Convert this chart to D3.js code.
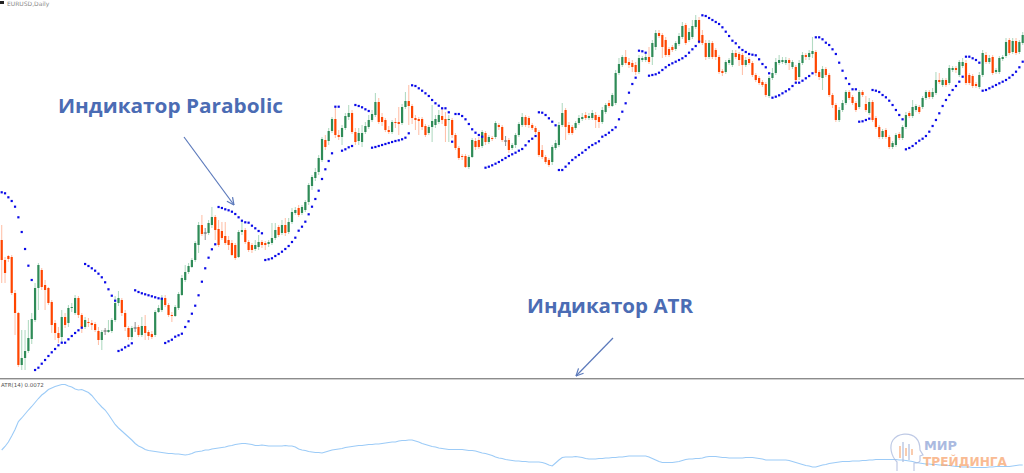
<!DOCTYPE html>
<html><head><meta charset="utf-8">
<script src="https://cdn.jsdelivr.net/npm/d3@7"></script>
<style>html,body{margin:0;padding:0;background:#fff;overflow:hidden}</style>
</head><body><svg id="c" width="1024" height="473" xmlns="http://www.w3.org/2000/svg"></svg>
<script>
// ---- chart values (quotes stored in 0.001 units, ATR in pips) ----
const symbolLabel = "EURUSD,Daily";
const atrName = "ATR(14)";
const noteTexts = ["Индикатор Parabolic", "Индикатор ATR"];
const logoTexts = ["МИР", "ТРЕЙДИНГА"];

const open = [
1260,1240,1244,1243,1207,1187,1135,1142,1149,1161, 1180,1212,1230,1215,1212,1198,1177,1167,1163,1183,
1177,1192,1187,1202,1185,1173,1178,1177,1176,1169, 1160,1169,1168,1169,1180,1197,1200,1187,1172,1163,
1172,1173,1165,1174,1168,1166,1165,1188,1190,1202, 1195,1185,1184,1192,1205,1220,1228,1233,1240,1255,
1275,1267,1267,1275,1283,1271,1269,1264,1260,1257, 1255,1243,1268,1270,1258,1255,1251,1253,1258,1257,
1256,1257,1262,1273,1267,1275,1268,1278,1287,1292, 1287,1290,1298,1314,1322,1328,1340,1360,1359,1369,
1381,1365,1363,1372,1383,1387,1368,1359,1358,1368, 1373,1380,1385,1398,1383,1380,1370,1368,1378,1378,
1377,1393,1399,1394,1382,1381,1381,1374,1367,1373, 1375,1378,1384,1381,1380,1380,1365,1352,1344,1344,
1333,1343,1359,1360,1354,1367,1358,1362,1363,1375, 1373,1359,1360,1352,1355,1365,1375,1383,1382,1375,
1372,1368,1350,1343,1340,1338,1352,1355,1375,1390, 1375,1373,1372,1377,1381,1385,1382,1382,1385,1383,
1378,1388,1397,1394,1397,1427,1435,1443,1438,1437, 1435,1428,1440,1440,1443,1443,1453,1467,1465,1460,
1451,1453,1451,1456,1463,1475,1460,1463,1473,1480, 1465,1457,1443,1457,1450,1443,1429,1428,1437,1435,
1447,1446,1445,1435,1441,1437,1425,1422,1418,1416, 1404,1422,1427,1437,1438,1437,1440,1433,1433,1423,
1437,1445,1443,1446,1448,1428,1422,1431,1425,1405, 1395,1380,1390,1397,1408,1403,1397,1393,1408,1396,
1387,1398,1382,1373,1363,1370,1363,1353,1355,1366, 1362,1373,1387,1384,1390,1393,1393,1402,1408,1403,
1407,1420,1415,1420,1417,1430,1432,1425,1434,1437, 1425,1424,1416,1413,1425,1445,1438,1443,1428,1428,
1441,1444,1460,1448,1459,1448,1457];
const close = [
1240,1227,1241,1207,1187,1135,1142,1149,1162,1181, 1212,1235,1213,1210,1197,1175,1167,1162,1183,1175,
1192,1193,1202,1185,1173,1180,1177,1175,1170,1160, 1168,1169,1170,1180,1197,1202,1187,1173,1163,1172,
1172,1165,1174,1167,1164,1163,1188,1192,1202,1195, 1185,1184,1193,1206,1222,1228,1234,1240,1257,1275,
1266,1267,1277,1283,1270,1255,1262,1257,1255,1245, 1242,1268,1270,1258,1250,1250,1255,1258,1255,1255,
1258,1262,1270,1265,1275,1267,1278,1288,1290,1285, 1293,1298,1315,1323,1328,1342,1361,1353,1369,1381,
1365,1363,1372,1384,1387,1368,1358,1367,1367,1374, 1380,1386,1398,1378,1378,1370,1368,1378,1377,1376,
1393,1399,1394,1382,1380,1379,1373,1365,1373,1379, 1381,1385,1380,1374,1381,1365,1352,1342,1343,1333,
1343,1360,1353,1353,1368,1358,1363,1361,1377,1373, 1360,1359,1350,1355,1365,1376,1383,1375,1375,1372,
1368,1345,1343,1338,1335,1353,1357,1375,1387,1373, 1367,1367,1377,1382,1383,1382,1384,1387,1380,1378,
1390,1395,1394,1405,1427,1436,1443,1437,1435,1433, 1428,1442,1442,1443,1438,1457,1467,1464,1453,1445,
1445,1450,1457,1464,1474,1457,1468,1474,1480,1458, 1457,1443,1457,1443,1443,1428,1427,1438,1440,1447,
1443,1440,1435,1440,1437,1425,1420,1417,1415,1405, 1422,1427,1438,1440,1440,1440,1437,1438,1420,1437,
1445,1443,1447,1449,1427,1423,1431,1425,1405,1395, 1380,1390,1397,1408,1402,1397,1390,1408,1405,1390,
1398,1380,1373,1363,1369,1363,1353,1357,1365,1362, 1373,1385,1384,1393,1394,1388,1402,1408,1403,1408,
1420,1418,1420,1415,1432,1432,1430,1438,1438,1417, 1417,1414,1414,1425,1447,1438,1442,1427,1430,1442,
1443,1458,1447,1459,1447,1458,1465];
const high = [
1275,1243,1245,1245,1210,1188,1170,1170,1180,1187, 1217,1237,1232,1220,1213,1200,1180,1173,1190,1187,
1195,1197,1205,1204,1187,1183,1182,1180,1178,1173, 1170,1172,1180,1182,1204,1209,1202,1190,1174,1174,
1178,1175,1183,1185,1170,1169,1190,1195,1205,1205, 1197,1188,1195,1208,1225,1235,1237,1242,1259,1278,
1285,1272,1280,1293,1285,1280,1278,1278,1264,1260, 1257,1270,1280,1272,1260,1257,1260,1265,1260,1259,
1260,1277,1277,1275,1280,1282,1282,1292,1293,1295, 1295,1300,1317,1325,1332,1345,1363,1365,1372,1383,
1393,1370,1375,1387,1395,1390,1372,1372,1375,1378, 1385,1390,1407,1402,1387,1382,1374,1380,1382,1393,
1396,1408,1415,1396,1385,1383,1383,1376,1375,1395, 1385,1390,1392,1388,1385,1382,1367,1354,1346,1346,
1345,1362,1362,1363,1370,1369,1365,1364,1379,1377, 1375,1364,1362,1357,1367,1378,1387,1385,1384,1377,
1374,1370,1355,1345,1342,1355,1360,1378,1397,1392, 1378,1375,1379,1385,1387,1388,1387,1390,1388,1385,
1393,1397,1400,1407,1430,1442,1445,1450,1442,1440, 1438,1445,1444,1447,1453,1460,1470,1470,1467,1463,
1453,1455,1459,1467,1478,1477,1472,1480,1485,1483, 1470,1460,1460,1459,1452,1445,1431,1440,1442,1450,
1450,1448,1447,1443,1443,1439,1427,1424,1420,1418, 1424,1432,1442,1445,1443,1443,1442,1440,1435,1440,
1448,1447,1450,1463,1450,1430,1434,1433,1427,1407, 1397,1393,1400,1410,1410,1405,1399,1410,1410,1404,
1402,1400,1384,1375,1371,1372,1365,1359,1367,1368, 1375,1388,1389,1400,1396,1395,1404,1410,1410,1412,
1428,1427,1422,1422,1435,1434,1434,1440,1442,1440, 1427,1426,1418,1428,1450,1448,1445,1445,1432,1444,
1445,1462,1462,1462,1462,1460,1468];
const low = [
1217,1217,1238,1205,1165,1133,1130,1130,1147,1156, 1178,1190,1210,1190,1195,1167,1160,1157,1158,1172,
1173,1188,1185,1182,1167,1171,1173,1170,1168,1155, 1150,1165,1167,1167,1178,1194,1184,1169,1160,1160,
1168,1163,1163,1160,1160,1161,1163,1187,1188,1193, 1183,1178,1183,1190,1204,1218,1226,1232,1238,1247,
1264,1260,1265,1272,1260,1253,1260,1255,1250,1244, 1240,1242,1265,1256,1248,1247,1249,1250,1252,1250,
1253,1255,1260,1263,1265,1264,1266,1276,1285,1283, 1285,1288,1295,1310,1319,1325,1338,1350,1355,1367,
1362,1360,1355,1370,1380,1366,1355,1355,1353,1366, 1371,1378,1383,1376,1374,1368,1366,1366,1372,1365,
1375,1391,1375,1376,1370,1365,1370,1363,1365,1358, 1372,1376,1376,1358,1358,1362,1350,1340,1340,1332,
1331,1342,1350,1351,1352,1355,1356,1359,1361,1370, 1358,1354,1347,1350,1352,1363,1373,1373,1372,1370,
1366,1343,1341,1336,1333,1335,1350,1353,1373,1360, 1365,1365,1370,1375,1379,1380,1380,1380,1372,1372,
1376,1386,1392,1393,1395,1425,1433,1435,1432,1428, 1425,1426,1438,1438,1436,1435,1450,1462,1442,1443,
1443,1448,1449,1454,1461,1455,1458,1461,1471,1456, 1455,1440,1441,1441,1440,1426,1424,1426,1435,1433,
1441,1434,1425,1433,1435,1423,1418,1415,1413,1403, 1402,1420,1425,1435,1436,1435,1430,1431,1418,1420,
1435,1440,1440,1442,1424,1420,1410,1423,1403,1392, 1378,1378,1388,1395,1400,1395,1388,1391,1403,1388,
1385,1378,1371,1361,1361,1361,1351,1351,1353,1360, 1360,1371,1382,1382,1388,1386,1391,1400,1401,1401,
1405,1416,1413,1413,1415,1428,1427,1423,1432,1415, 1415,1412,1412,1411,1423,1436,1436,1425,1426,1426,
1439,1442,1445,1446,1445,1446,1455];
const sar = [
1307.7,1306.7,1302.7,1299,1293.3,1282.7,1268,1251,1234.3,1220,
1130,1132.3,1136.3,1140,1144,1147.7,1151,1154.7,1157.3,1157.3,1160.7,1164,1167,1169.7,1172.3,
1236,1234,1231.7,1229.3,1226.3,1222.7,1217.7,1210.7,1204.3,1199.3,
1149,1150.3,1152.7,1154.3,1156.7,
1209.7,1208,1206.7,1205.7,1204.7,1203.7,1202.7,1201.7,1201.3,
1157,1158.7,1160.3,1163.3,1164.7,1166.3,1173,1178.7,1186.3,1194.3,1204.7,1218.3,1231.7,1242.3,1250.7,1255.7,
1293,1292,1290.7,1289.7,1288.3,1286,1282.7,1279.3,1277.7,1277.3,1274.3,1271.7,1269,1266.7,
1240,1240.7,1241.7,1244,1246,1248.3,1251,1254,1258,1262.3,1269.3,1273.3,1278.3,1285.7,1293.3,1301,1309.3,1321,
1330.7,1339,1346.7,
1393.3,1393.3,
1349.3,1350.7,1352.7,1354,
1395,1394,1392.7,1390.7,1389,
1352.3,1353,1354,1355,1356,1357,1358,1359,1359.7,1360.7,1362.3,1366.7,
1414.7,1414,1411.7,1409.3,1406.7,1404,1400,1396.7,1394.3,1391.7,1391.7,1387.7,
1358.3,
1386,1386,1384,1380.7,1376,1370.7,1367.3,1365,1363.3,
1332.3,1333.3,1334.7,1336.3,1338,1340,1342,1344,1345.7,1347.3,1349.3,1351,1354.7,1358.7,1361.3,1364,
1387.7,1387.3,1385,1381.7,1378.3,1374.7,
1330,1330,1333.3,1336.7,1340,1342.7,1345,1347.3,1350,1352.7,1355,1356.7,1358.7,
1363.3,1365,1367.3,1370,1372.7,1380.7,1388.3,1396.7,1407.3,1416,1422.3,
1449.3,1448.7,1447.3,
1424.3,1425,1425.7,1427.3,1430,1432.7,1435,1436.7,1438.3,1440,1441.7,1444,1447.3,1450.7,1454,1458.3,
1484.7,1484,1482,1480,1478,1476,1472.7,1468.3,1464,1459.3,1456.7,1452.7,1450,1448,1446,1445.3,1444.7,1440.7,1436,1432.7,1426.7,
1402.3,1403.3,1404.7,1406.7,1408.7,1410.7,1414,1417.3,1417.3,1419.3,1421.7,1424,1426.7,
1462.7,1462.7,1460.7,1457.3,1455,1450.7,1446,1437.3,1429.3,1421.7,1416,1410.7,1410.7,
1378.3,1378.7,1380,1381.3,
1410,1409.3,1408,1405,1402.7,1399.3,1395,1390,1385,1380.7,
1350.7,1352,1354,1356.7,1359.3,1361.3,1364,1368.3,1374,1380,1386.7,1394,1400,1405,1410,1414,1418.3,1423.3,
1443.3,1443.3,1441.7,1440,1437.3,
1409.3,1410,1411.7,1413.3,1415,1416.7,1418.3,1420,1422.3,1425,1428.3,1432.7,1438.3];
const atr = [
102,109,118,130,143,159,166,174,182,189, 197,205,212,217,223,226,229,231,233,233,
230,228,224,222,223,220,217,211,203,195, 188,182,173,163,153,146,140,134,128,122,
115,110,107,103,101,100,99,98,97,96, 95,95,94,94,93,92,93,95,98,99,
100,102,102,104,105,106,107,108,110,111, 113,114,115,115,114,113,111,111,112,111,
110,110,110,110,110,111,110,110,108,104, 102,101,99,98,97,97,96,98,100,102,
103,104,105,107,108,109,110,111,111,112, 113,113,114,114,115,116,117,118,118,120,
121,121,122,122,120,118,115,113,111,109, 108,106,105,104,103,103,103,103,103,102,
101,101,100,98,96,95,93,91,88,86, 85,83,82,81,80,80,79,79,78,78,
78,78,77,75,72,70,76,82,87,88, 88,88,89,88,87,85,84,84,84,85,
85,86,86,87,87,88,88,89,90,90, 90,90,90,90,88,85,82,79,77,77,
77,77,78,79,81,83,84,84,85,85, 86,88,89,89,89,88,87,87,86,86,
86,86,86,87,87,87,86,85,84,82, 82,82,82,82,82,82,81,79,77,75,
73,71,70,68,68,70,72,73,75,76, 77,78,79,79,79,80,80,80,81,81,
82,82,83,83,83,83,83,83,83,82, 82,81,80,79,77,76,75,74,74,73,
73,72,72,71,71,70,69,69,68,68, 68,67,67,67,67,67,68,68,69,69,
69,69,69,70,71,72,72];

// ---- drawing ----
const svg = d3.select("#c");
const n = open.length, idx = d3.range(n);
const x = d3.scaleLinear().domain([0, n - 1]).range([1.7, 1022.7]);
const y = d3.scaleLinear().domain([1500, 1122]).range([0, 378]);
const ya = d3.scaleLinear().domain([52, 242]).range([475, 380]);

svg.append("rect").attr("width", 1024).attr("height", 473).attr("fill", "#fff");

const main = svg.append("g");
const up = i => close[i] > open[i], dn = i => close[i] < open[i];
main.selectAll("line.w").data(idx).join("line").attr("class", "w")
  .attr("x1", i => x(i)).attr("x2", i => x(i))
  .attr("y1", i => y(high[i])).attr("y2", i => y(low[i]))
  .attr("stroke", i => up(i) ? "#b3dbc3" : dn(i) ? "#ffc2ab" : "#9a9a9a")
  .attr("stroke-width", 1.1);
main.selectAll("rect.b").data(idx.filter(i => open[i] !== close[i])).join("rect").attr("class", "b")
  .attr("x", i => x(i) - 1.1).attr("width", 2.2)
  .attr("y", i => y(Math.max(open[i], close[i])))
  .attr("height", i => Math.max(1, Math.abs(y(open[i]) - y(close[i]))))
  .attr("fill", i => up(i) ? "#2e8b57" : "#ff4500");
main.selectAll("line.d").data(idx.filter(i => open[i] === close[i])).join("line").attr("class", "d")
  .attr("x1", i => x(i) - 1.6).attr("x2", i => x(i) + 1.6)
  .attr("y1", i => y(open[i])).attr("y2", i => y(open[i]))
  .attr("stroke", "#666").attr("stroke-width", 1);
main.selectAll("rect.s").data(idx).join("rect").attr("class", "s")
  .attr("x", i => x(i) - 1.1).attr("y", i => y(sar[i]) - 1.1)
  .attr("width", 2.2).attr("height", 2.2).attr("fill", "#0a0ae8");

// symbol label
svg.append("rect").attr("x", 0).attr("y", 1).attr("width", 4).attr("height", 3).attr("fill", "#222");
svg.append("text").attr("x", 7).attr("y", 6).attr("font-family", "DejaVu Sans, sans-serif")
  .attr("font-size", 6).attr("fill", "#8a8a8a").text(symbolLabel);

// separator
svg.append("line").attr("x1", 0).attr("x2", 1024).attr("y1", 378.5).attr("y2", 378.5).attr("stroke", "#8c8c8c");
svg.append("line").attr("x1", 0).attr("x2", 1024).attr("y1", 379.5).attr("y2", 379.5).attr("stroke", "#cfcfcf");

// ATR
svg.append("path").datum(idx)
  .attr("d", d3.line().x(i => x(i)).y(i => ya(atr[i])))
  .attr("fill", "none").attr("stroke", "#9ccbf7").attr("stroke-width", 1.1);
svg.append("text").attr("x", 1).attr("y", 386.5).attr("font-family", "DejaVu Sans, sans-serif")
  .attr("font-size", 5.5).attr("fill", "#555")
  .text(atrName + " " + (atr[n - 1] / 10000).toFixed(4));

// annotations
const noteColor = "#4b6cb4";
function arrow(x1, y1, x2, y2) {
  const g = svg.append("g").attr("stroke", "#5b79bb").attr("stroke-width", 1.2).attr("fill", "none");
  g.append("line").attr("x1", x1).attr("y1", y1).attr("x2", x2).attr("y2", y2);
  const a = Math.atan2(y2 - y1, x2 - x1), L = 8;
  [0.45, -0.45].forEach(d => g.append("line").attr("x1", x2).attr("y1", y2)
    .attr("x2", x2 - L * Math.cos(a + d)).attr("y2", y2 - L * Math.sin(a + d)));
}
svg.append("text").attr("x", 58).attr("y", 113).attr("font-family", "Open Sans, sans-serif")
  .attr("font-weight", 700).attr("font-size", 19).attr("fill", noteColor)
  .attr("textLength", 225).attr("lengthAdjust", "spacingAndGlyphs").text(noteTexts[0]);
arrow(184, 137, 234, 205);
svg.append("text").attr("x", 527).attr("y", 313).attr("font-family", "Open Sans, sans-serif")
  .attr("font-weight", 700).attr("font-size", 19).attr("fill", noteColor)
  .attr("textLength", 166).attr("lengthAdjust", "spacingAndGlyphs").text(noteTexts[1]);
arrow(613, 338, 576, 376);

// logo
const logo = svg.append("g").attr("opacity", 0.75);
logo.append("path")
  .attr("d", "M897,471 L897,462 C891,456 889,446 893,440 C898,433 910,432 916,438 C920,442 920,447 920,450 L923,455 L920,456 L920,461 C919,463 916,463 914,463 L914,471")
  .attr("fill", "none").attr("stroke", "#a9b8dd").attr("stroke-width", 1.2);
[[900, 446, 458, "#f7a56f"], [903, 442, 462, "#a9b8dd"], [906, 448, 456, "#f7a56f"], [909, 444, 460, "#a9b8dd"], [912, 449, 455, "#f7a56f"]]
  .forEach(c => logo.append("line").attr("x1", c[0]).attr("x2", c[0]).attr("y1", c[1]).attr("y2", c[2])
    .attr("stroke", c[3]).attr("stroke-width", 1.5));
logo.append("text").attr("x", 924).attr("y", 449.5).attr("font-family", "DejaVu Sans, sans-serif")
  .attr("font-weight", 700).attr("font-size", 13).attr("fill", "#8ea3d6")
  .attr("textLength", 33).attr("lengthAdjust", "spacingAndGlyphs").text(logoTexts[0]);
logo.append("text").attr("x", 923).attr("y", 465.5).attr("font-family", "DejaVu Sans, sans-serif")
  .attr("font-weight", 700).attr("font-size", 13).attr("fill", "#f7a56f")
  .attr("textLength", 84).attr("lengthAdjust", "spacingAndGlyphs").text(logoTexts[1]);
</script></body></html>
